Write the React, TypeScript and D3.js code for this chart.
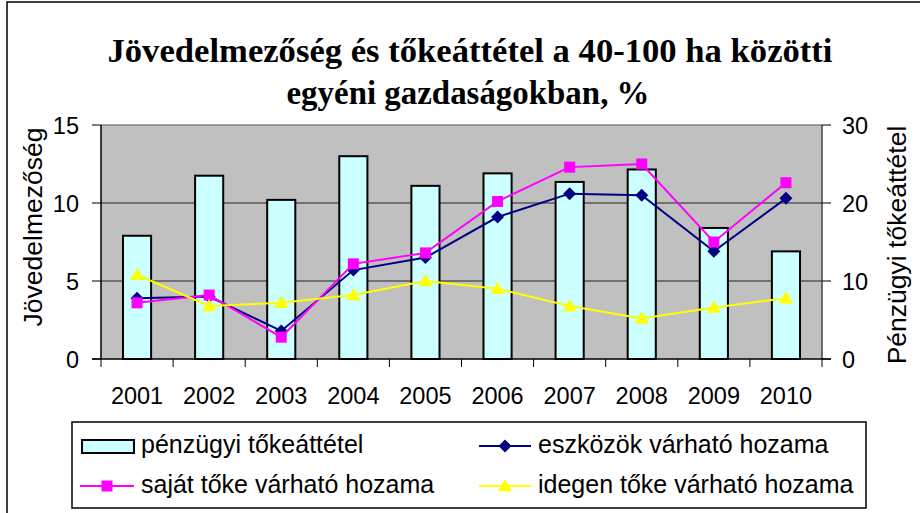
import * as d3 from 'd3';

const years = ['2001', '2002', '2003', '2004', '2005', '2006', '2007', '2008', '2009', '2010'];
// pénzügyi tőkeáttétel (jobb tengely)
const tokeattetel = [15.8, 23.5, 20.4, 26.0, 22.2, 23.8, 22.7, 24.3, 16.8, 13.8];
// bal tengely
const eszkozok = [3.9, 4.0, 1.8, 5.7, 6.5, 9.1, 10.6, 10.5, 6.9, 10.3];
const sajat = [3.6, 4.1, 1.4, 6.1, 6.8, 10.1, 12.3, 12.5, 7.5, 11.3];
const idegen = [5.4, 3.4, 3.6, 4.1, 5.0, 4.5, 3.4, 2.6, 3.3, 3.9];
const leftTicks = [0, 5, 10, 15];
const rightTicks = [0, 10, 20, 30];

const W = 920;
const H = 513;
const plot = { left: 101, right: 822, top: 125, bottom: 359 };
const sans = '"Liberation Sans", Arial, sans-serif';

const App = () => {
    const x = d3.scaleBand().domain(years).range([plot.left, plot.right]);
    const yL = d3.scaleLinear().domain([0, 15]).range([plot.bottom, plot.top]);
    const yR = d3.scaleLinear().domain([0, 30]).range([plot.bottom, plot.top]);
    const cx = (y: string) => (x(y) || 0) + x.bandwidth() / 2;
    const barW = x.bandwidth() * 0.39;

    const line = d3.line<number>()
        .x((_, i) => cx(years[i]))
        .y(d => yL(d));

    const diamond = (px: number, py: number, r: number) =>
        `M${px},${py - r}L${px + r},${py}L${px},${py + r}L${px - r},${py}Z`;
    const triangle = (px: number, py: number, r: number) =>
        `M${px},${py - r}L${px + r},${py + r * 0.75}L${px - r},${py + r * 0.75}Z`;

    const series = [
        { data: eszkozok, color: '#000080', marker: 'diamond' },
        { data: sajat, color: '#FF00FF', marker: 'square' },
        { data: idegen, color: '#FFFF00', marker: 'triangle' },
    ];

    const marker = (kind: string, px: number, py: number, color: string, key: string | number) => {
        if (kind === 'diamond') return <path key={key} d={diamond(px, py, 6.5)} fill={color} />;
        if (kind === 'square') return <rect key={key} x={px - 5.5} y={py - 5.5} width={11} height={11} fill={color} />;
        return <path key={key} d={triangle(px, py, 7)} fill={color} />;
    };

    return (
        <svg width={W} height={H} style={{ position: 'absolute', left: 0, top: 0, background: '#fff' }}>
            {/* keret */}
            <rect x={7} y={2} width={W + 10} height={H + 10} fill="none" stroke="#000" strokeWidth={1.5} />

            {/* cím */}
            <g fontFamily='"Liberation Serif", "Times New Roman", serif' fontWeight="bold" fontSize={33} textAnchor="middle">
                <text x={470} y={62} textLength={725} lengthAdjust="spacingAndGlyphs">Jövedelmezőség és tőkeáttétel a 40-100 ha közötti</text>
                <text x={468} y={104} textLength={363} lengthAdjust="spacingAndGlyphs">egyéni gazdaságokban, %</text>
            </g>

            {/* rajzterület */}
            <rect x={plot.left} y={plot.top} width={plot.right - plot.left} height={plot.bottom - plot.top} fill="#C0C0C0" />
            {leftTicks.slice(1, -1).map(t => (
                <line key={t} x1={plot.left} x2={plot.right} y1={yL(t)} y2={yL(t)} stroke="#222" strokeWidth={1} />
            ))}
            <line x1={plot.left} x2={plot.right} y1={plot.top} y2={plot.top} stroke="#808080" strokeWidth={1.5} />

            {/* oszlopok */}
            {tokeattetel.map((v, i) => (
                <rect key={i} x={cx(years[i]) - barW / 2} y={yR(v)} width={barW} height={plot.bottom - yR(v)}
                    fill="#CCFFFF" stroke="#000" strokeWidth={2} />
            ))}

            {/* vonalak */}
            {series.map(s => (
                <g key={s.color}>
                    <path d={line(s.data) || ''} fill="none" stroke={s.color} strokeWidth={2} />
                    {s.data.map((v, i) => marker(s.marker, cx(years[i]), yL(v), s.color, i))}
                </g>
            ))}

            {/* tengelyek */}
            <line x1={plot.left} x2={plot.left} y1={plot.top} y2={plot.bottom} stroke="#000" strokeWidth={1.5} />
            <line x1={plot.right} x2={plot.right} y1={plot.top} y2={plot.bottom} stroke="#404040" strokeWidth={1.5} />
            <line x1={plot.left - 9} x2={plot.right + 9} y1={plot.bottom} y2={plot.bottom} stroke="#000" strokeWidth={1.5} />
            {leftTicks.map(t => (
                <g key={t}>
                    <line x1={plot.left - 9} x2={plot.left} y1={yL(t)} y2={yL(t)} stroke="#000" />
                    <text x={79} y={yL(t) + 8.5} textAnchor="end" fontFamily={sans} fontSize={23.5}>{t}</text>
                </g>
            ))}
            {rightTicks.map(t => (
                <g key={t}>
                    <line x1={plot.right} x2={plot.right + 9} y1={yR(t)} y2={yR(t)} stroke="#000" />
                    <text x={842} y={yR(t) + 8.5} textAnchor="start" fontFamily={sans} fontSize={23.5}>{t}</text>
                </g>
            ))}
            {[...years.map(y => x(y) || 0), plot.right].map((px, i) => (
                <line key={i} x1={px} x2={px} y1={plot.bottom} y2={plot.bottom + 8} stroke="#000" />
            ))}
            {years.map(y => (
                <text key={y} x={cx(y)} y={404} textAnchor="middle" fontFamily={sans} fontSize={23.5}>{y}</text>
            ))}
            <text transform="translate(42,227) rotate(-90)" textAnchor="middle" fontFamily={sans} fontSize={26.5}>Jövedelmezőség</text>
            <text transform="translate(906,245) rotate(-90)" textAnchor="middle" fontFamily={sans} fontSize={26.5}>Pénzügyi tőkeáttétel</text>

            {/* jelmagyarázat */}
            <rect x={72} y={422} width={794} height={86} fill="#fff" stroke="#000" strokeWidth={1.5} />
            <g fontFamily={sans} fontSize={25}>
                <rect x={82} y={440} width={52} height={13} fill="#CCFFFF" stroke="#000" strokeWidth={2} />
                <text x={141} y={453}>pénzügyi tőkeáttétel</text>

                <line x1={479} x2={531} y1={446} y2={446} stroke="#000080" strokeWidth={2} />
                {marker('diamond', 505, 446, '#000080', 'ld')}
                <text x={538} y={453}>eszközök várható hozama</text>

                <line x1={80} x2={134} y1={486} y2={486} stroke="#FF00FF" strokeWidth={2} />
                {marker('square', 107, 486, '#FF00FF', 'ls')}
                <text x={141} y={493}>saját tőke várható hozama</text>

                <line x1={479} x2={531} y1={486} y2={486} stroke="#FFFF00" strokeWidth={2} />
                {marker('triangle', 505, 486, '#FFFF00', 'lt')}
                <text x={538} y={493}>idegen tőke várható hozama</text>
            </g>
        </svg>
    );
};

export default App;
